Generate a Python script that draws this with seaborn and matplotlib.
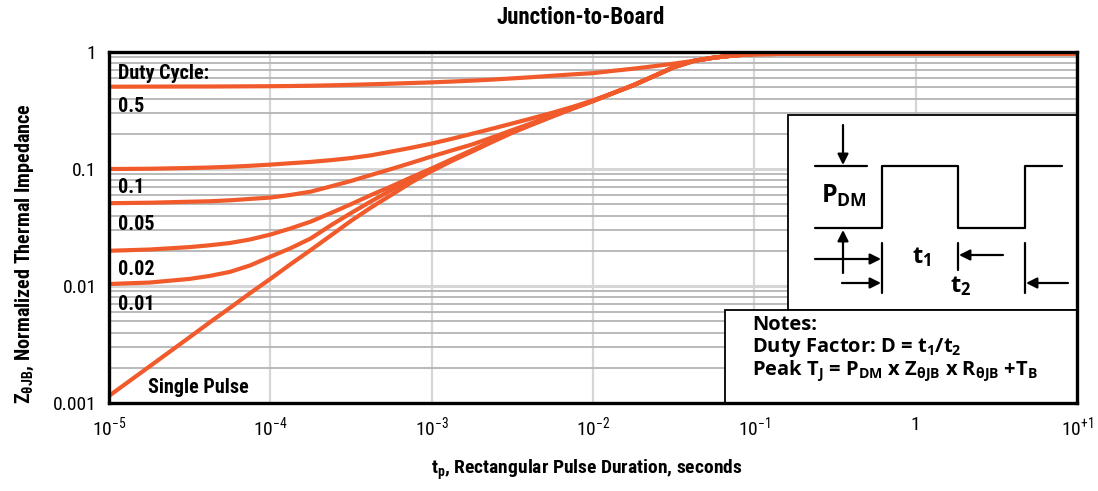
import pandas as pd
import seaborn as sns
import matplotlib.pyplot as plt
import matplotlib.transforms as mtransforms
from matplotlib import font_manager
from matplotlib.patches import Rectangle
from matplotlib.ticker import LogLocator, NullFormatter, NullLocator

# durée d'impulsion (s), un point par huitième de décade dans la zone courbée
t_s = [1e-5, 1.78e-5, 3.16e-5, 4.22e-5, 5.62e-5, 7.5e-5,
       1e-4, 1.33e-4, 1.78e-4, 2.37e-4, 3.16e-4, 4.22e-4, 5.62e-4, 7.5e-4,
       1e-3, 1.33e-3, 1.78e-3, 2.37e-3, 3.16e-3, 4.22e-3, 5.62e-3, 7.5e-3,
       1e-2, 1.33e-2, 1.78e-2, 2.37e-2, 3.16e-2, 4.22e-2, 5.62e-2, 7.5e-2,
       0.1, 0.178, 0.316, 1, 3.16, 10]

# impédance thermique normalisée
z_d05 = [0.505, 0.506, 0.507, 0.507, 0.508, 0.509,
         0.51, 0.512, 0.515, 0.519, 0.524, 0.53, 0.536, 0.543,
         0.55, 0.559, 0.569, 0.581, 0.595, 0.61, 0.627, 0.644,
         0.66, 0.69, 0.72, 0.755, 0.795, 0.84, 0.895, 0.935,
         0.96, 0.965, 0.965, 0.965, 0.965, 0.965]
z_d01 = [0.100, 0.1005, 0.102, 0.103, 0.1045, 0.1065,
         0.109, 0.112, 0.115, 0.119, 0.124, 0.131, 0.141, 0.152,
         0.165, 0.181, 0.200, 0.221, 0.245, 0.272, 0.303, 0.340,
         0.386, 0.445, 0.52, 0.62, 0.74, 0.84, 0.895, 0.935,
         0.96, 0.965, 0.965, 0.965, 0.965, 0.965]
z_d005 = [0.051, 0.0515, 0.0525, 0.053, 0.054, 0.0555,
          0.057, 0.060, 0.064, 0.071, 0.079, 0.089, 0.100, 0.113,
          0.128, 0.144, 0.162, 0.186, 0.215, 0.248, 0.288, 0.333,
          0.383, 0.445, 0.52, 0.62, 0.74, 0.84, 0.895, 0.935,
          0.96, 0.965, 0.965, 0.965, 0.965, 0.965]
z_d002 = [0.020, 0.0205, 0.0215, 0.0223, 0.0233, 0.025,
          0.0275, 0.031, 0.0355, 0.042, 0.050, 0.060, 0.071, 0.085,
          0.101, 0.121, 0.145, 0.174, 0.208, 0.244, 0.285, 0.331,
          0.382, 0.445, 0.52, 0.62, 0.74, 0.84, 0.895, 0.935,
          0.96, 0.965, 0.965, 0.965, 0.965, 0.965]
z_d001 = [0.0104, 0.0107, 0.0115, 0.0122, 0.0132, 0.015,
          0.0178, 0.021, 0.0255, 0.033, 0.042, 0.053, 0.066, 0.081,
          0.098, 0.119, 0.143, 0.172, 0.206, 0.242, 0.283, 0.330,
          0.381, 0.445, 0.52, 0.62, 0.74, 0.84, 0.895, 0.935,
          0.96, 0.965, 0.965, 0.965, 0.965, 0.965]
z_single = [0.00115, 0.00205, 0.00365, 0.0049, 0.0065, 0.0087,
            0.0115, 0.0153, 0.0203, 0.027, 0.036, 0.047, 0.060, 0.077,
            0.096, 0.117, 0.141, 0.170, 0.204, 0.240, 0.281, 0.328,
            0.380, 0.445, 0.52, 0.62, 0.74, 0.84, 0.895, 0.935,
            0.96, 0.965, 0.965, 0.965, 0.965, 0.965]

series = {'0.5': z_d05, '0.1': z_d01, '0.05': z_d005, '0.02': z_d002,
          '0.01': z_d001, 'Single Pulse': z_single}

xtick_vals = [1e-5, 1e-4, 1e-3, 1e-2, 1e-1, 1, 10]
xtick_labels = ['$10^{-5}$', '$10^{-4}$', '$10^{-3}$', '$10^{-2}$', '$10^{-1}$', '1', '$10^{+1}$']
ytick_vals = [0.001, 0.01, 0.1, 1]
ytick_labels = ['0.001', '0.01', '0.1', '1']

# étiquettes des courbes (texte, x, y de la ligne de base, en pixels de l'image)
curve_labels = [('Duty Cycle:', 118, 79), ('0.5', 118, 112), ('0.1', 118, 193),
                ('0.05', 118, 230), ('0.02', 118, 275), ('0.01', 118, 310),
                ('Single Pulse', 148, 393)]

rows = []
for name, vals in series.items():
    for t, z in zip(t_s, vals):
        rows.append({'t': t, 'Z': z, 'D': name})
df = pd.DataFrame(rows)

orange = '#f15a2b'

# police étroite qui possède un gras
cands = {}
for f in font_manager.fontManager.ttflist:
    if 'Narrow' in f.name or 'Condensed' in f.name or 'condensed' in str(f.stretch):
        w = f.weight if isinstance(f.weight, int) else font_manager.weight_dict.get(f.weight, 400)
        cands.setdefault(f.name, set()).add(w)
narrow = None
prefer = ['Liberation Sans Narrow', 'Roboto Condensed', 'Noto Sans', 'DejaVu Sans',
          'Open Sans Condensed', 'Noto Sans Condensed'] + sorted(cands)
for fam in prefer:
    if fam in cands and max(cands[fam]) >= 600 and min(cands[fam]) <= 450:
        narrow = fam
        break
if narrow is None:
    narrow = 'Roboto'

sns.set_style('white')
plt.rcParams['font.family'] = [narrow, 'DejaVu Sans']
plt.rcParams['font.stretch'] = 'condensed'
plt.rcParams['text.color'] = 'black'
plt.rcParams['axes.labelcolor'] = 'black'
plt.rcParams['xtick.color'] = 'black'
plt.rcParams['ytick.color'] = 'black'
plt.rcParams['mathtext.fontset'] = 'custom'
plt.rcParams['mathtext.rm'] = narrow + ':stretch=condensed'
plt.rcParams['mathtext.bf'] = narrow + ':bold:stretch=condensed'
plt.rcParams['mathtext.it'] = narrow + ':italic:stretch=condensed'
plt.rcParams['mathtext.sf'] = 'Open Sans:bold'

fig = plt.figure(figsize=(10.98, 4.91), dpi=100)
ax = fig.add_axes([109 / 1098, 1 - 403 / 491, 968 / 1098, 351 / 491])
pix = mtransforms.Affine2D().scale(1 / 1098, -1 / 491).translate(0, 1) + fig.transFigure

sns.lineplot(data=df, x='t', y='Z', hue='D', palette={k: orange for k in series},
             estimator=None, sort=True, lw=3, legend=False, ax=ax)

ax.set_xscale('log')
ax.set_yscale('log')
ax.set_xlim(1e-5, 10)
ax.set_ylim(0.001, 1)
ax.set_xticks(xtick_vals, xtick_labels)
ax.set_yticks(ytick_vals, ytick_labels)
ax.xaxis.set_minor_locator(NullLocator())
ax.yaxis.set_minor_locator(LogLocator(base=10, subs=range(2, 10)))
ax.yaxis.set_minor_formatter(NullFormatter())
ax.tick_params(length=0, labelsize=14)
ax.tick_params(axis='y', pad=9)
ax.tick_params(axis='x', pad=9)
ax.set_xlabel('')
ax.set_ylabel('')

ax.grid(True, which='minor', axis='y', color='#b4b4b4', lw=1.3)
ax.grid(True, which='major', axis='y', color='#d6d6d6', lw=2.2)
ax.grid(True, which='major', axis='x', color='#d6d6d6', lw=1.6)
for sp in ax.spines.values():
    sp.set_color('black')
    sp.set_linewidth(2.4)
    sp.set_visible(True)

fig.text(581 / 1098, 1 - 18 / 491, 'Junction-to-Board', ha='center', va='center',
         fontsize=16.5, fontweight='bold')
fig.text(25 / 1098, 1 - 254 / 491, r'Z$_{\mathbf{θJB}}$, Normalized Thermal Impedance',
         ha='center', va='center', rotation=90, fontsize=14.5, fontweight='bold')
fig.text(587 / 1098, 1 - 470 / 491, r't$_{\mathbf{p}}$, Rectangular Pulse Duration, seconds',
         ha='center', va='center', fontsize=14, fontweight='bold')

for txt, x, y in curve_labels:
    ax.text(x, y, txt, transform=pix, ha='left', va='baseline',
            fontsize=14.5, fontweight='bold')

# boîtes du schéma et des notes
ax.add_patch(Rectangle((788, 115), 289, 195, transform=pix, facecolor='white',
                       edgecolor='black', lw=1.3, zorder=2.2))
ax.add_patch(Rectangle((725, 310), 352, 93, transform=pix, facecolor='white',
                       edgecolor='black', lw=1.3, zorder=2.2))

wave_x = [815, 882, 882, 958, 958, 1025, 1025, 1062]
wave_y = [228, 228, 166, 166, 228, 228, 166, 166]
ax.plot(wave_x, wave_y, color='black', lw=1.6, transform=pix, zorder=2.3, clip_on=False)
ax.plot([815, 867], [166, 166], color='black', lw=1.6, transform=pix, zorder=2.3, clip_on=False)
for xv, y0, y1 in [(882, 243, 293), (958, 243, 270), (1025, 243, 293)]:
    ax.plot([xv, xv], [y0, y1], color='black', lw=1.6, transform=pix, zorder=2.3, clip_on=False)

arrows = [((843, 125), (843, 165)), ((843, 273), (843, 230)),
          ((815, 259), (881, 259)), ((842, 283), (881, 283)),
          ((1003, 255), (959, 255)), ((1068, 283), (1026, 283))]
for tail, tip in arrows:
    ax.annotate('', xy=tip, xytext=tail, xycoords=pix, textcoords=pix,
                arrowprops=dict(arrowstyle='-|>', color='black', lw=1.6,
                                mutation_scale=16, shrinkA=0, shrinkB=0),
                zorder=2.4)

ax.text(821, 203, r'$\mathsf{P_{DM}}$', transform=pix, fontsize=18, ha='left', va='baseline')
ax.text(912, 263, r'$\mathsf{t_1}$', transform=pix, fontsize=17, ha='left', va='baseline')
ax.text(950, 292, r'$\mathsf{t_2}$', transform=pix, fontsize=17, ha='left', va='baseline')

notes = ['Notes:',
         r'Duty Factor: D = t$\mathsf{_1}$/t$\mathsf{_2}$',
         r'Peak T$\mathsf{_J}$ = P$\mathsf{_{DM}}$ x Z$\mathsf{_{\theta JB}}$ x R$\mathsf{_{\theta JB}}$ +T$\mathsf{_B}$']
for txt, yb in zip(notes, [330, 352, 375]):
    ax.text(752, yb, txt, transform=pix, fontsize=14.5, fontweight='bold',
            family=['Open Sans', 'DejaVu Sans'], stretch='normal', ha='left', va='baseline')

fig.savefig('out.png', dpi=100)
